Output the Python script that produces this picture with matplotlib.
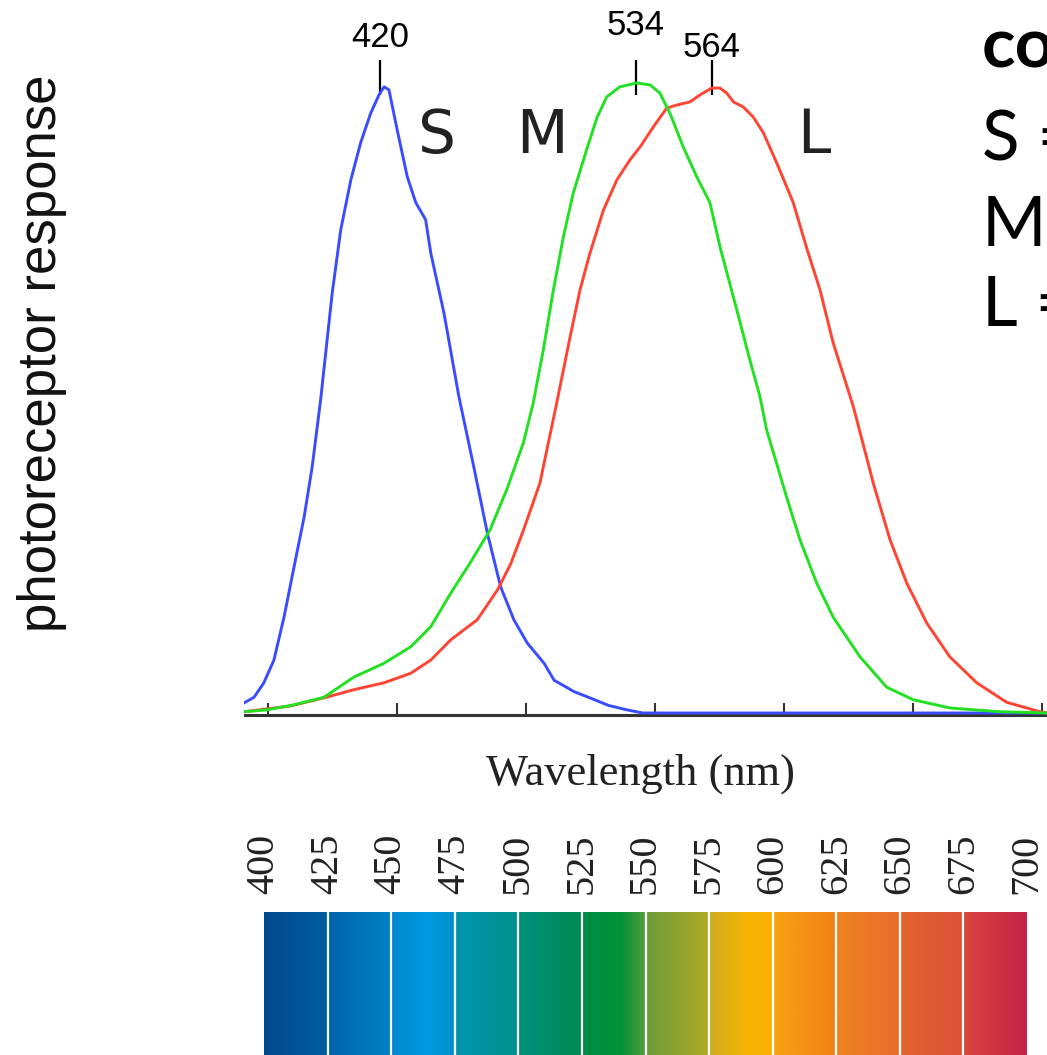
import numpy as np
import matplotlib.pyplot as plt
from matplotlib.colors import to_rgb

# cone response curves (0 = baseline, 1 = top of the M peak)
s_nm = [390.7, 394.6, 398.4, 402.3, 406.2, 410.1, 414.0, 417.1, 420.4, 424.9, 428.2,
        432.1, 435.9, 439.8, 443.0, 445.0, 446.9, 450.1, 454.0, 457.3, 461.1, 463.1,
        468.2, 474.0, 479.8, 485.0, 490.2, 495.3, 500.5, 507.0, 510.9, 518.6, 526.0,
        532.0, 539.1, 545.3, 701.9]
s_resp = [0.016, 0.025, 0.048, 0.084, 0.152, 0.232, 0.311, 0.390, 0.497, 0.667, 0.767,
          0.846, 0.905, 0.952, 0.981, 0.994, 0.989, 0.925, 0.851, 0.810, 0.783, 0.730,
          0.635, 0.502, 0.390, 0.286, 0.200, 0.148, 0.111, 0.079, 0.052, 0.034, 0.022,
          0.012, 0.005, 0.0, 0.0]

m_nm = [390.7, 399.6, 410.1, 421.7, 433.3, 445.0, 455.3, 463.1, 470.8, 478.0, 486.0,
        492.5, 499.0, 502.8, 506.7, 510.6, 514.5, 518.3, 523.5, 527.5, 531.3, 536.4,
        542.9, 548.1, 551.9, 555.8, 561.0, 566.2, 571.3, 575.2, 581.7, 586.8, 590.7,
        593.3, 601.0, 606.2, 612.7, 619.1, 629.5, 639.8, 650.1, 664.3, 683.7, 701.9]
m_resp = [0.002, 0.005, 0.013, 0.025, 0.057, 0.079, 0.105, 0.137, 0.190, 0.236, 0.290,
          0.354, 0.429, 0.492, 0.576, 0.671, 0.756, 0.825, 0.894, 0.945, 0.978, 0.994,
          1.0, 0.997, 0.984, 0.952, 0.898, 0.851, 0.810, 0.740, 0.640, 0.560, 0.502,
          0.449, 0.343, 0.275, 0.206, 0.152, 0.089, 0.041, 0.021, 0.008, 0.002, 0.0]

l_nm = [390.7, 408.5, 421.7, 433.3, 445.0, 455.3, 463.1, 470.8, 481.1, 488.9, 494.0,
        499.0, 505.4, 511.9, 517.1, 520.9, 524.8, 530.0, 535.2, 540.3, 544.5, 549.3,
        554.5, 558.4, 563.6, 567.4, 572.0, 575.2, 577.8, 580.4, 584.2, 588.1, 592.0,
        597.2, 603.6, 608.8, 614.0, 619.1, 626.9, 634.6, 641.1, 647.6, 655.3, 664.3,
        674.7, 686.3, 699.2, 701.9]
l_resp = [0.002, 0.011, 0.024, 0.037, 0.048, 0.063, 0.084, 0.116, 0.148, 0.195, 0.236,
          0.290, 0.365, 0.492, 0.597, 0.671, 0.730, 0.798, 0.846, 0.878, 0.900, 0.930,
          0.960, 0.965, 0.970, 0.981, 0.992, 0.992, 0.984, 0.970, 0.962, 0.946, 0.921,
          0.873, 0.810, 0.738, 0.671, 0.587, 0.486, 0.365, 0.275, 0.206, 0.143, 0.089,
          0.048, 0.017, 0.002, 0.0]

axis_ticks = [400, 450, 500, 550, 600, 650, 700]
peak_pos = [443.4, 542.6, 572.1]
peak_labels = ['420', '534', '564']
cone_names = ['S', 'M', 'L']
cone_name_pos = [465.5, 506.2, 611.6]

# spectrum strip
spec_ticks = list(range(400, 701, 25))
spec_nm = [400, 424, 426, 449, 451, 465, 474, 476, 499, 501, 524, 526, 540, 549,
           551, 574, 576, 590, 599, 601, 624, 626, 649, 651, 674, 676, 700]
spec_hex = ['#004a8c', '#005ca0', '#0064aa', '#0080c6', '#0088d0', '#009ae0', '#0090cc',
            '#0096b0', '#00908c', '#00907c', '#008a52', '#008b46', '#009238', '#4c9a3c',
            '#6a9e38', '#b0a828', '#d0ae22', '#f6b500', '#fdb000', '#f9a214', '#f08214',
            '#ef8220', '#e86e2c', '#e3622f', '#dc5236', '#d8443d', '#c42348']

legend_lines = ['cones', 'S = short', 'M = medium', 'L = long']

W, H = 1047, 1055
fig = plt.figure(figsize=(W / 100, H / 100), dpi=100)

# curves panel
ax = fig.add_axes([244 / W, 1 - 740 / H, (1047 - 244) / W, 740 / H])
ax.set_xlim(390.7, 701.94)
ax.set_ylim(-27 / 630, 713 / 630)
ax.axis('off')

ax.axhline(-0.003, color='#333333', lw=2.2, zorder=1)
ax.vlines(axis_ticks, -0.003, 0.016, color='#333333', lw=1.5, zorder=1)

ax.plot(s_nm, s_resp, color='#3a4cff', lw=2.1, zorder=3, solid_joinstyle='round')
ax.plot(l_nm, l_resp, color='#ff4433', lw=2.1, zorder=4, solid_joinstyle='round')
ax.plot(m_nm, m_resp, color='#22e022', lw=2.1, zorder=5, solid_joinstyle='round')

ax.vlines(peak_pos, 0.981, 1.0365, color='black', lw=1.6)
for x, lab, yb in zip(peak_pos, peak_labels, [1.057, 1.076, 1.041]):
    ax.text(x, yb, lab, ha='center', va='baseline', fontsize=25,
            family='Liberation Sans', color='black')

for x, name in zip(cone_name_pos, cone_names):
    ax.text(x, 0.889, name, ha='center', va='baseline', fontsize=43,
            family='DejaVu Sans', color='#222222')

fig.text(640 / W, 1 - 785 / H, 'Wavelength (nm)', ha='center', va='baseline',
         fontsize=32, family='Liberation Serif', color='#222222')
fig.text(42 / W, 1 - 353 / H, 'photoreceptor response', rotation=90,
         ha='center', va='center', fontsize=38, family='Liberation Sans', color='#111111')

# text on the right, cut by the frame as in the source picture
for i, (line, yb) in enumerate(zip(legend_lines, [68, 160, 245, 325])):
    fig.text(982 / W, 1 - yb / H, line, ha='left', va='baseline', fontsize=50,
             family='Lato', fontweight='bold' if i == 0 else 'normal', color='black')

# spectrum strip
ax2 = fig.add_axes([264 / W, 0, 763 / W, 143 / H])
grid = np.linspace(400, 700, 1500)
rgb = np.array([to_rgb(c) for c in spec_hex])
img = np.stack([np.interp(grid, spec_nm, rgb[:, i]) for i in range(3)], axis=-1)[None, :, :]
ax2.imshow(img, aspect='auto', extent=(400, 700, 0, 1), interpolation='bilinear')
ax2.vlines(spec_ticks[1:-1], 0, 1, color='white', lw=1.6)
ax2.set_xlim(400, 700)
ax2.set_ylim(0, 1)
ax2.xaxis.tick_top()
ax2.set_xticks(spec_ticks)
ax2.set_xticklabels([str(t) for t in spec_ticks], rotation=90, fontsize=29,
                    family='Liberation Serif', color='#222222')
ax2.tick_params(axis='x', length=0, pad=13)
ax2.set_yticks([])
for sp in ax2.spines.values():
    sp.set_visible(False)

fig.savefig('out.png', dpi=100)
